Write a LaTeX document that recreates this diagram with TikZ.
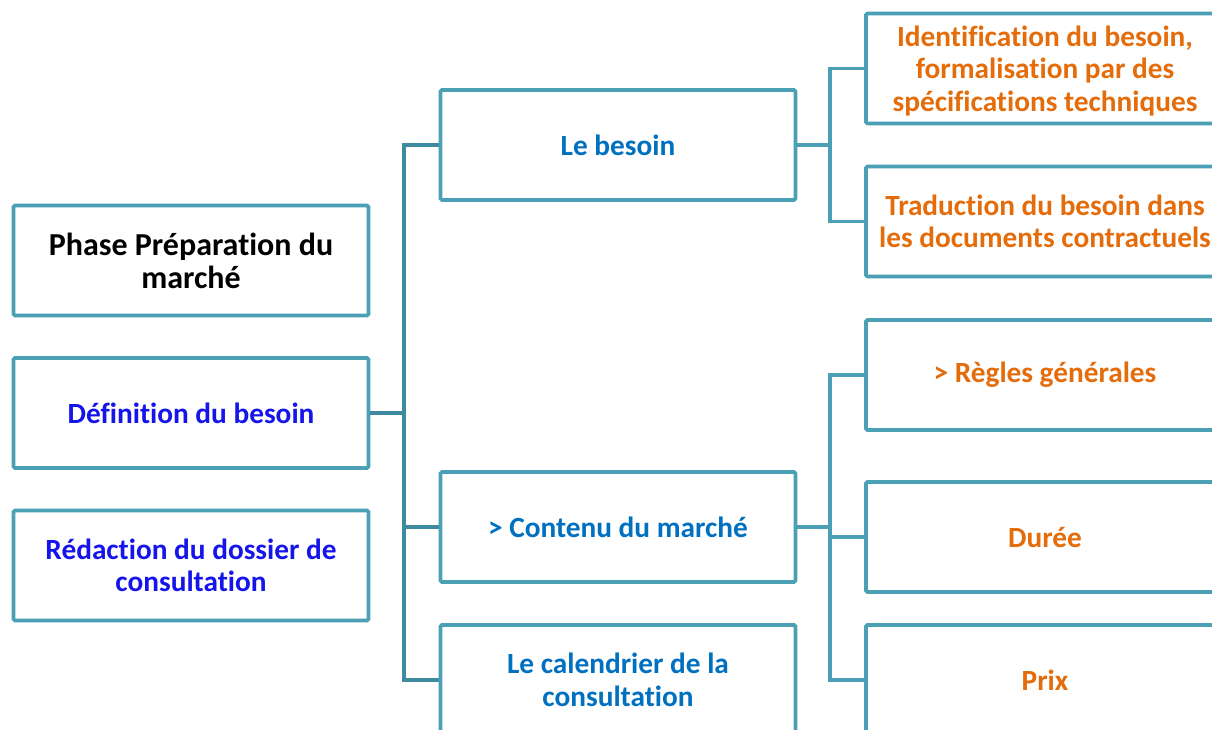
\documentclass[tikz,border=0pt]{standalone}
\usepackage{fontspec}
\setmainfont{Carlito}[Ligatures=CommonOff]
\definecolor{boxc}{RGB}{75,160,181}
\definecolor{trunkc}{RGB}{62,138,158}
\definecolor{txblue}{RGB}{20,20,235}
\definecolor{txmid}{RGB}{0,112,192}
\definecolor{txorange}{RGB}{228,108,10}
\begin{document}
\begin{tikzpicture}[x=1pt,y=-1pt,
  box/.style={draw=boxc, line width=3.8pt, rounded corners=1.5pt, fill=white,
    align=center, inner sep=0pt, minimum width=355pt, minimum height=110pt,
    font=\bfseries\fontsize{29.3}{32.5}\selectfont},
  titlebox/.style={box, font=\bfseries\fontsize{32}{33}\selectfont},
  rbox/.style={box, minimum width=358pt},
  conn/.style={draw=boxc, line width=3.8pt, line join=miter},
  trunk/.style={conn, draw=trunkc}]
\useasboundingbox (0,0) rectangle (1212,729);
\clip (0,0) rectangle (1212,729);
% left column
\node[titlebox, text=black] (phase) at (191,260.5) {Phase Préparation du\\marché};
\node[box, text=txblue] (def) at (191,413) {Définition du besoin};
\node[box, text=txblue] (red) at (191,565.5) {Rédaction du dossier de\\consultation};
% middle column
\node[box, text=txmid] (bes) at (618,145) {Le besoin};
\node[box, text=txmid] (cont) at (618,527) {> Contenu du marché};
\node[box, text=txmid] (cal) at (618,680) {Le calendrier de la\\consultation};
% right column
\node[rbox, text=txorange, text depth=0pt] (ident) at (1045,68.5) {Identification du besoin,\\formalisation par des\\spécifications techniques};
\node[rbox, text=txorange] (trad) at (1045,221.5) {Traduction du besoin dans\\les documents contractuels};
\node[rbox, text=txorange] (regl) at (1045,375) {> Règles générales};
\node[rbox, text=txorange] (dur) at (1045,537) {Durée};
\node[rbox, text=txorange] (prix) at (1045,680) {Prix};
% junctions
\coordinate (jL) at (404,413);
\coordinate (jB) at (830,145);
\coordinate (jC) at (830,527);
% connectors
\draw[trunk] (def.east) -- (jL);
\draw[trunk] (bes.west) -| (jL);
\draw[trunk] (cont.west) -| (jL);
\draw[trunk] (cal.west) -| (jL);
\draw[conn] (bes.east) -- (jB);
\draw[conn] (ident.west) -| (jB);
\draw[conn] (trad.west) -| (jB);
\draw[conn] (cont.east) -- (jC);
\draw[conn] (regl.west) -| (jC);
\draw[conn] (dur.west) -| (jC);
\draw[conn] (prix.west) -| (jC);
\end{tikzpicture}
\end{document}
